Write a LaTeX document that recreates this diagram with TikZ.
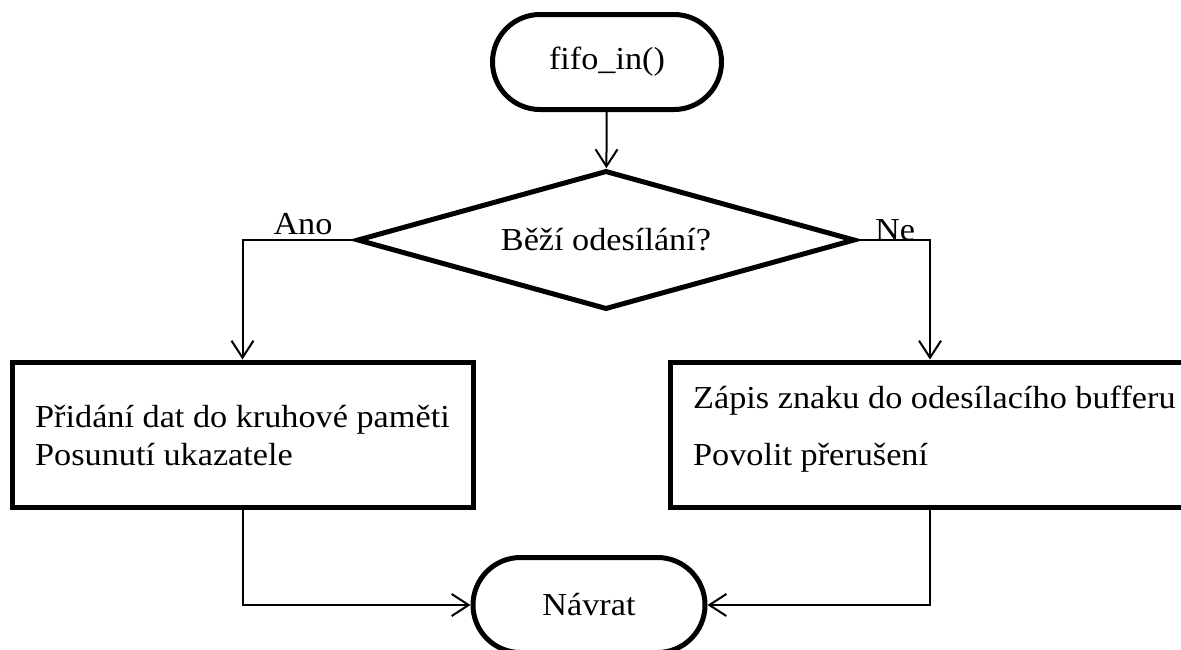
\documentclass[tikz,border=0pt]{standalone}
\usepackage{fontspec}
\setmainfont[FakeStretch=1.07]{Liberation Serif}
\usetikzlibrary{shapes.geometric,shapes.misc,arrows.meta}

\tikzset{
  txt/.style={font=\fontsize{32}{38}\selectfont},
  outline/.style={draw, line width=5pt, inner sep=0pt, txt},
  term/.style={outline, rounded rectangle, minimum width=229pt, minimum height=95pt},
  decision/.style={outline, diamond, aspect=3.58, minimum width=498pt, minimum height=139pt},
  procbox/.style={outline, rectangle, minimum height=145pt},
  lbl/.style={txt, inner sep=0pt},
  conn/.style={draw, line width=2pt, -{Straight Barb[length=17pt,width=22pt,line width=2pt]}},
}

\begin{document}
\begin{tikzpicture}[x=1pt,y=-1pt]
  \path[use as bounding box] (0,0) rectangle (1181,649);
  \clip (0,0) rectangle (1181,649);

  % shapes
  \node[term] (start) at (607,62) {fifo\_in()};
  \node[decision] (dec) at (606,240) {Běží odesílání?};
  \node[procbox, minimum width=461pt] (lbox) at (242.5,434.5) {};
  \node[procbox, minimum width=520pt] (rbox) at (930,434.5) {};
  \node[term, minimum width=232pt] (end) at (589,605) {Návrat};

  % box texts
  \node[lbl, anchor=base west] (l1) at (35,427) {Přidání dat do kruhové paměti};
  \node[lbl, anchor=base west] (l2) at (35,465) {Posunutí ukazatele};
  \node[lbl, anchor=base west] (r1) at (693,408) {Zápis znaku do odesílacího bufferu};
  \node[lbl, anchor=base west] (r2) at (693,465) {Povolit přerušení};

  % branch labels
  \node[lbl, anchor=base] (ano) at (303,234) {Ano};
  \node[lbl, anchor=base] (ne) at (895,240) {Ne};

  % connectors
  \draw[conn] (start) -- (dec);
  \draw[conn] (dec.west) -| (lbox.north);
  \draw[conn] (dec.east) -| (rbox.north);
  \draw[conn] (lbox.south) |- (end.west);
  \draw[conn] (rbox.south) |- (end.east);
\end{tikzpicture}
\end{document}
